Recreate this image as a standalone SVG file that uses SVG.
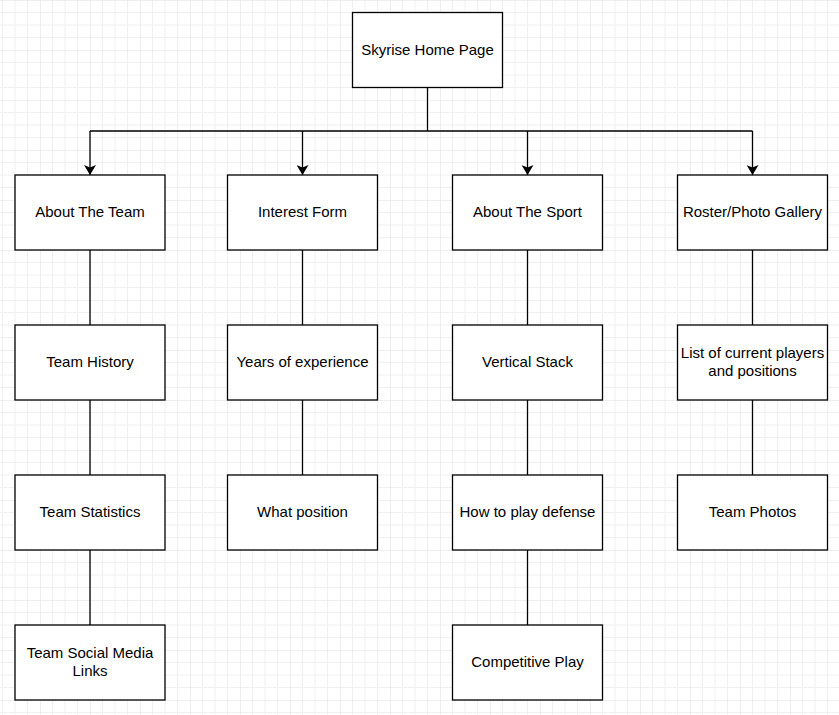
<svg xmlns="http://www.w3.org/2000/svg" width="839" height="715" viewBox="0 0 839 715">
<defs>
<pattern id="grid" x="-10" y="0" width="50" height="50" patternUnits="userSpaceOnUse">
<path d="M12.5 0V50M25 0V50M37.5 0V50M0 12.5H50M0 25H50M0 37.5H50" stroke="#f0f0f0" stroke-width="1" fill="none"/>
<path d="M0 0V50M0 0H50" stroke="#dedede" stroke-width="1" fill="none"/>
</pattern>
<marker id="arrow" viewBox="0 0 10 12" refX="10" refY="6" markerWidth="10" markerHeight="12" markerUnits="userSpaceOnUse" orient="auto">
<path d="M0 0L10 6L0 12L2.5 6Z" fill="#000"/>
</marker>
<style>
.box{fill:#fff;stroke:#000;stroke-width:1.3}
.lbl{font-family:"Liberation Sans",Arial,sans-serif;font-size:15px;fill:#000;text-anchor:middle}
.con{stroke:#000;stroke-width:1.3;fill:none}
</style>
</defs>
<rect width="839" height="715" fill="#fff"/>
<rect width="839" height="715" fill="url(#grid)"/>
<g id="connectors">
<path class="con" d="M427.5 87.5V131M90 131H752.5"/>
<path class="con" d="M90 131V175" marker-end="url(#arrow)"/>
<path class="con" d="M302.5 131V175" marker-end="url(#arrow)"/>
<path class="con" d="M527.5 131V175" marker-end="url(#arrow)"/>
<path class="con" d="M752.5 131V175" marker-end="url(#arrow)"/>
<path class="con" d="M90 250V325M90 400V475M90 550V625"/>
<path class="con" d="M302.5 250V325M302.5 400V475"/>
<path class="con" d="M527.5 250V325M527.5 400V475M527.5 550V625"/>
<path class="con" d="M752.5 250V325M752.5 400V475"/>
</g>
<g id="home"><rect class="box" x="352.5" y="12.5" width="150" height="75"/><text class="lbl" x="427.5" y="54.5">Skyrise Home Page</text></g>
<g id="about-team"><rect class="box" x="15" y="175" width="150" height="75"/><text class="lbl" x="90" y="216.5">About The Team</text></g>
<g id="interest-form"><rect class="box" x="227.5" y="175" width="150" height="75"/><text class="lbl" x="302.5" y="216.5">Interest Form</text></g>
<g id="about-sport"><rect class="box" x="452.5" y="175" width="150" height="75"/><text class="lbl" x="527.5" y="216.5">About The Sport</text></g>
<g id="roster"><rect class="box" x="677.5" y="175" width="150" height="75"/><text class="lbl" x="752.5" y="216.5">Roster/Photo Gallery</text></g>
<g id="team-history"><rect class="box" x="15" y="325" width="150" height="75"/><text class="lbl" x="90" y="366.5">Team History</text></g>
<g id="years-exp"><rect class="box" x="227.5" y="325" width="150" height="75"/><text class="lbl" x="302.5" y="366.5">Years of experience</text></g>
<g id="vertical-stack"><rect class="box" x="452.5" y="325" width="150" height="75"/><text class="lbl" x="527.5" y="366.5">Vertical Stack</text></g>
<g id="players-list"><rect class="box" x="677.5" y="325" width="150" height="75"/><text class="lbl" x="752.5" y="357.5">List of current players</text><text class="lbl" x="752.5" y="375.5">and positions</text></g>
<g id="team-stats"><rect class="box" x="15" y="475" width="150" height="75"/><text class="lbl" x="90" y="516.5">Team Statistics</text></g>
<g id="what-position"><rect class="box" x="227.5" y="475" width="150" height="75"/><text class="lbl" x="302.5" y="516.5">What position</text></g>
<g id="defense"><rect class="box" x="452.5" y="475" width="150" height="75"/><text class="lbl" x="527.5" y="516.5">How to play defense</text></g>
<g id="team-photos"><rect class="box" x="677.5" y="475" width="150" height="75"/><text class="lbl" x="752.5" y="516.5">Team Photos</text></g>
<g id="social-media"><rect class="box" x="15" y="625" width="150" height="75"/><text class="lbl" x="90" y="657.5">Team Social Media</text><text class="lbl" x="90" y="675.5">Links</text></g>
<g id="competitive"><rect class="box" x="452.5" y="625" width="150" height="75"/><text class="lbl" x="527.5" y="666.5">Competitive Play</text></g>
</svg>
